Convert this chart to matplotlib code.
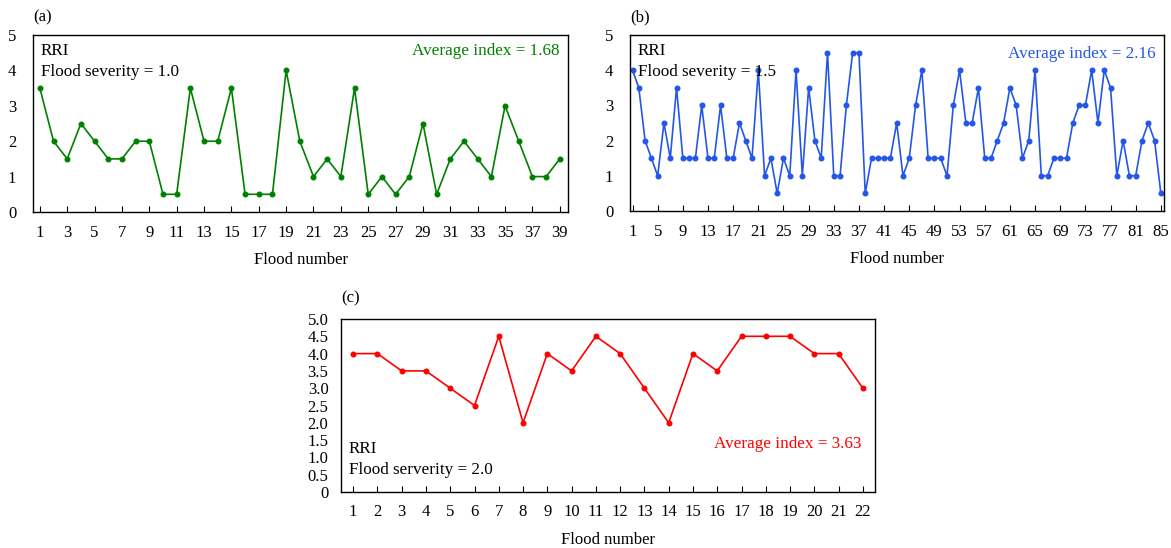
import matplotlib
matplotlib.use("Agg")
import matplotlib.pyplot as plt
from matplotlib.ticker import FuncFormatter

plt.rcParams["font.family"] = ["Liberation Serif", "DejaVu Serif"]
plt.rcParams["font.size"] = 12

# RRI values per flood event
rri_a = [3.5, 2, 1.5, 2.5, 2, 1.5, 1.5, 2, 2, 0.5,
         0.5, 3.5, 2, 2, 3.5, 0.5, 0.5, 0.5, 4, 2,
         1, 1.5, 1, 3.5, 0.5, 1, 0.5, 1, 2.5, 0.5,
         1.5, 2, 1.5, 1, 3, 2, 1, 1, 1.5]
rri_b = [4, 3.5, 2, 1.5, 1, 2.5, 1.5, 3.5, 1.5, 1.5,
         1.5, 3, 1.5, 1.5, 3, 1.5, 1.5, 2.5, 2, 1.5,
         4, 1, 1.5, 0.5, 1.5, 1, 4, 1, 3.5, 2,
         1.5, 4.5, 1, 1, 3, 4.5, 4.5, 0.5, 1.5, 1.5,
         1.5, 1.5, 2.5, 1, 1.5, 3, 4, 1.5, 1.5, 1.5,
         1, 3, 4, 2.5, 2.5, 3.5, 1.5, 1.5, 2, 2.5,
         3.5, 3, 1.5, 2, 4, 1, 1, 1.5, 1.5, 1.5,
         2.5, 3, 3, 4, 2.5, 4, 3.5, 1, 2, 1,
         1, 2, 2.5, 2, 0.5]
rri_c = [4, 4, 3.5, 3.5, 3, 2.5, 4.5, 2, 4, 3.5,
         4.5, 4, 3, 2, 4, 3.5, 4.5, 4.5, 4.5, 4, 4, 3]

avg_text = ["Average index = 1.68", "Average index = 2.16", "Average index = 3.63"]
sev_text = ["Flood severity = 1.0", "Flood severity = 1.5", "Flood serverity = 2.0"]

W, H = 1171, 548
fig = plt.figure(figsize=(W / 100, H / 100), dpi=100)
FS = 12
FS_NOTE = 12.3


def px_axes(left, top, right, bottom):
    return fig.add_axes([left / W, 1 - bottom / H, (right - left) / W, (bottom - top) / H])


def style(ax, vals, color, xticks, xlim, ylim, yticks):
    x = list(range(1, len(vals) + 1))
    ax.plot(x, vals, color=color, linewidth=1.2, marker="o", markersize=3.3)
    ax.set_xlim(*xlim)
    ax.set_ylim(*ylim)
    ax.set_xticks(xticks)
    ax.set_yticks(yticks)
    ax.tick_params(axis="x", direction="in", length=4, pad=9, labelsize=FS)
    ax.tick_params(axis="y", length=0, pad=12, labelsize=FS)
    ax.set_xlabel("Flood number", fontsize=FS, labelpad=8)
    for s in ax.spines.values():
        s.set_linewidth(1.0)


# (a)
ax_a = px_axes(33, 35, 568, 212)
style(ax_a, rri_a, "#008000", list(range(1, 40, 2)), (0.5, 39.6), (0, 5), range(6))
ax_a.text(0.015, 0.91, "RRI", transform=ax_a.transAxes, va="center", fontsize=FS_NOTE)
ax_a.text(0.015, 0.79, sev_text[0], transform=ax_a.transAxes, va="center", fontsize=FS_NOTE)
ax_a.text(0.985, 0.91, avg_text[0], transform=ax_a.transAxes, va="center", ha="right",
          fontsize=FS_NOTE, color="#008000")
fig.text(33 / W, 1 - 17 / H, "(a)", va="center", ha="left", fontsize=FS)

# (b)
ax_b = px_axes(630, 35, 1164, 211)
style(ax_b, rri_b, "#2457e8", list(range(1, 86, 4)), (0.6, 85.5), (0, 5), range(6))
ax_b.text(0.015, 0.91, "RRI", transform=ax_b.transAxes, va="center", fontsize=FS_NOTE)
ax_b.text(0.015, 0.79, sev_text[1], transform=ax_b.transAxes, va="center", fontsize=FS_NOTE)
ax_b.text(0.985, 0.89, avg_text[1], transform=ax_b.transAxes, va="center", ha="right",
          fontsize=FS_NOTE, color="#2457e8")
fig.text(630 / W, 1 - 17 / H, "(b)", va="center", ha="left", fontsize=FS)

# (c)
ax_c = px_axes(341, 319, 875, 492)
style(ax_c, rri_c, "#ff0000", list(range(1, 23)), (0.5, 22.5), (0, 5),
      [i * 0.5 for i in range(11)])
ax_c.yaxis.set_major_formatter(FuncFormatter(lambda v, p: "0" if v == 0 else f"{v:.1f}"))
ax_c.tick_params(axis="y", pad=9)
ax_c.set_xlabel("Flood number", fontsize=FS, labelpad=8)
ax_c.text(0.015, 0.25, "RRI", transform=ax_c.transAxes, va="center", fontsize=FS_NOTE)
ax_c.text(0.015, 0.127, sev_text[2], transform=ax_c.transAxes, va="center", fontsize=FS_NOTE)
ax_c.text(0.974, 0.28, avg_text[2], transform=ax_c.transAxes, va="center", ha="right",
          fontsize=FS_NOTE, color="#ff0000")
fig.text(341 / W, 1 - 298 / H, "(c)", va="center", ha="left", fontsize=FS)

fig.savefig("out.png", dpi=100)
